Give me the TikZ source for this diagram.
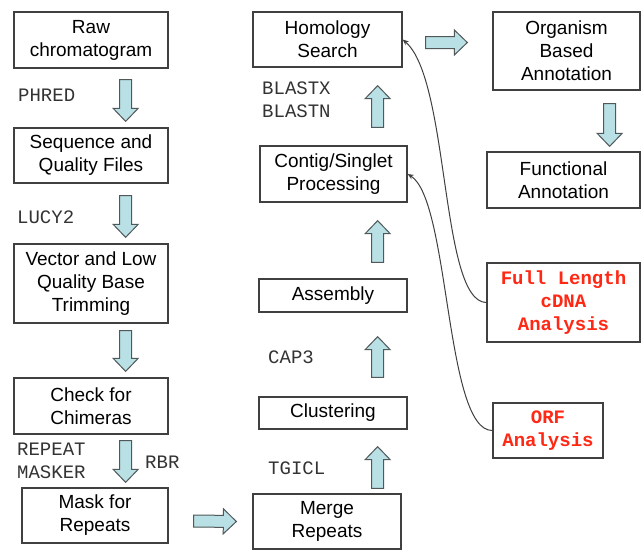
\documentclass[tikz,border=0pt]{standalone}
\usepackage{fontspec}
\setmainfont{Liberation Sans}
\setmonofont{Liberation Mono}
\usetikzlibrary{calc,arrows.meta}
\definecolor{boxline}{RGB}{64,64,64}
\definecolor{blkfill}{RGB}{185,224,228}
\definecolor{blkline}{RGB}{80,88,90}
\definecolor{toolred}{RGB}{255,40,20}
% block arrow from #1 to #2 (tip at #2)
\newcommand{\blkarrow}[2]{%
  \coordinate (ba) at #1;
  \coordinate (bb) at #2;
  \coordinate (bh) at ($(bb)!13pt!(ba)$);
  \draw[blk] ($(ba)!6pt!90:(bb)$) -- ($(bh)!6pt!90:(bb)$) -- ($(bh)!12.5pt!90:(bb)$) -- (bb)
    -- ($(bh)!12.5pt!-90:(bb)$) -- ($(bh)!6pt!-90:(bb)$) -- ($(ba)!6pt!-90:(bb)$) -- cycle;}
\begin{document}
\begin{tikzpicture}[x=1pt,y=-1pt,
    box/.style={draw=boxline, line width=1.3pt, fill=white, align=center, inner sep=0pt,
      font=\fontsize{19}{23}\selectfont},
    redbox/.style={box, text=toolred, font=\ttfamily\bfseries\fontsize{19}{23}\selectfont},
    tool/.style={anchor=west, inner sep=0pt, align=left, text=black!80,
      font=\ttfamily\fontsize{19}{23}\selectfont},
    blk/.style={draw=blkline, line width=1pt, fill=blkfill, line join=miter},
    link/.style={draw=black!75, line width=1pt, -{Stealth[length=6pt,width=5pt]}}]
    \useasboundingbox[fill=white] (0,0) rectangle (641,550);
    % left column
    \node[box, minimum width=154, minimum height=56] (raw) at (91,40) {Raw\\chromatogram};
    \node[box, minimum width=154, minimum height=55] (seq) at (91,155.5) {Sequence and\\Quality Files};
    \node[box, minimum width=154, minimum height=79] (vec) at (91,283.5) {Vector and Low\\Quality Base\\Trimming};
    \node[box, minimum width=154, minimum height=56] (chk) at (91,406) {Check for\\Chimeras};
    \node[box, minimum width=146, minimum height=55] (mask) at (95,515.5) {Mask for\\Repeats};
    \node[tool] (phred) at (18,95) {PHRED};
    \node[tool] (lucy) at (17,217) {LUCY2};
    \node[tool] (rmask) at (17,461) {REPEAT\\MASKER};
    \node[tool] (rbr) at (145,462) {RBR};
    % middle column
    \node[box, minimum width=149, minimum height=55] (hom) at (327.5,39.5) {Homology\\Search};
    \node[box, minimum width=147, minimum height=56] (contig) at (333.5,174) {Contig/Singlet\\Processing};
    \node[box, minimum width=148, minimum height=33] (asm) at (333,295.5) {Assembly};
    \node[box, minimum width=148, minimum height=32] (clu) at (333,413) {Clustering};
    \node[box, minimum width=148, minimum height=55] (merge) at (327,521.5) {Merge\\Repeats};
    \node[tool] (blast) at (262,100) {BLASTX\\BLASTN};
    \node[tool] (cap) at (268,357) {CAP3};
    \node[tool] (tgicl) at (268,468) {TGICL};
    % right column
    \node[box, minimum width=147, minimum height=78] (org) at (566.5,51) {Organism\\Based\\Annotation};
    \node[box, minimum width=153, minimum height=56] (func) at (563.5,180) {Functional\\Annotation};
    \node[redbox, minimum width=153, minimum height=79] (full) at (563.5,302.5) {Full Length\\cDNA\\Analysis};
    \node[redbox, minimum width=110, minimum height=55] (orf) at (548,430.5) {ORF\\Analysis};
    % block arrows
    \blkarrow{($(raw.south east)+(-43,11)$)}{($(seq.north east)+(-43,-6)$)}
    \blkarrow{($(seq.south east)+(-43,12)$)}{($(vec.north east)+(-43,-6)$)}
    \blkarrow{($(vec.south east)+(-43,7)$)}{($(chk.north east)+(-43,-6)$)}
    \blkarrow{($(chk.south east)+(-43,6)$)}{($(mask.north east)+(-43,-5)$)}
    \blkarrow{($(mask.east)+(25,5.5)$)}{($(merge.west)+(-16,0)$)}
    \blkarrow{($(merge.north east)+(-24,-5)$)}{($(clu.south east)+(-30,17)$)}
    \blkarrow{($(clu.north east)+(-30,-19)$)}{($(asm.south east)+(-30,24)$)}
    \blkarrow{($(asm.north east)+(-30,-16)$)}{($(contig.south east)+(-30,18)$)}
    \blkarrow{($(contig.north east)+(-30,-18)$)}{($(hom.south east)+(-25,18)$)}
    \blkarrow{($(hom.east)+(23,3)$)}{($(org.west)+(-25,-8.5)$)}
    \blkarrow{($(org.south east)+(-31,13)$)}{($(func.north east)+(-31,-5)$)}
    % curved links
    \draw[link] (full.west) .. controls (440,302) and (450,80) .. (hom.east);
    \draw[link] (orf.west) .. controls (445,431) and (450,200) .. (contig.east);
\end{tikzpicture}
\end{document}
